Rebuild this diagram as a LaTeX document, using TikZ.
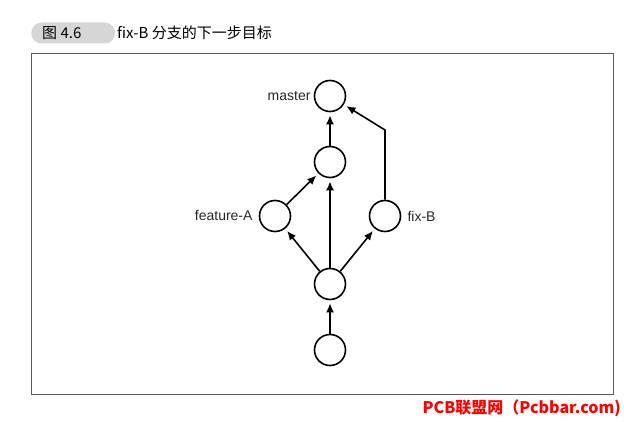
\documentclass[tikz,border=0pt]{standalone}
\usepackage{fontspec}
\setmainfont{Liberation Sans}
\newfontfamily\cjkfont{Noto Sans CJK SC}
\usetikzlibrary{arrows.meta,positioning}

\begin{document}
\begin{tikzpicture}[x=1pt, y=-1pt,
  node distance=3pt,
  commit/.style={circle, draw, line width=1.6pt, minimum size=31pt, inner sep=0pt},
  tag/.style={font=\fontsize{14}{15}\selectfont, inner sep=0pt, text=black!85},
  arr/.style={-{Latex[length=9pt,width=8pt]}, line width=1.6pt, shorten >=3pt},
  pill/.style={fill=black!16, rounded corners=10.5pt, minimum width=84pt, minimum height=21pt, inner sep=0pt}
]
\useasboundingbox (0,0) rectangle (624,422);
\node[pill, anchor=west] (figbox) at (31,33) {};
\node[anchor=west, inner sep=0pt, font=\cjkfont\fontsize{15}{16}\selectfont] (fignum) at (42,33) {图 4.6};
\node[anchor=west, inner sep=0pt, font=\cjkfont\fontsize{15}{16}\selectfont] (figtitle) at (117,33) {fix-B 分支的下一步目标};
\draw[line width=1pt, black!65] (31,54) rectangle (613,394);

\node[commit] (master) at (330,96) {};
\node[commit] (mid) at (330,162) {};
\node[commit] (featA) at (275,216) {};
\node[commit] (fixB) at (385,216) {};
\node[commit] (base) at (330,284) {};
\node[commit] (root) at (330,350) {};
\coordinate (bend) at (385,130);

\node[tag, left=of master] (lmaster) {master};
\node[tag, left=6pt of featA] (lfeatA) {feature-A};
\node[tag, right=6pt of fixB] (lfixB) {fix-B};

\draw[arr] (root) -- (base);
\draw[arr] (base) -- (featA);
\draw[arr] (base) -- (mid);
\draw[arr] (base) -- (fixB);
\draw[arr] (featA) -- (mid);
\draw[arr] (mid) -- (master);
\draw[arr] (fixB.north) -- (bend) -- (master);

\node[anchor=east, inner sep=0pt, text=red, font=\cjkfont\bfseries\fontsize{16}{17}\selectfont] (wmark) at (621,408) {PCB联盟网（Pcbbar.com)};
\end{tikzpicture}
\end{document}
